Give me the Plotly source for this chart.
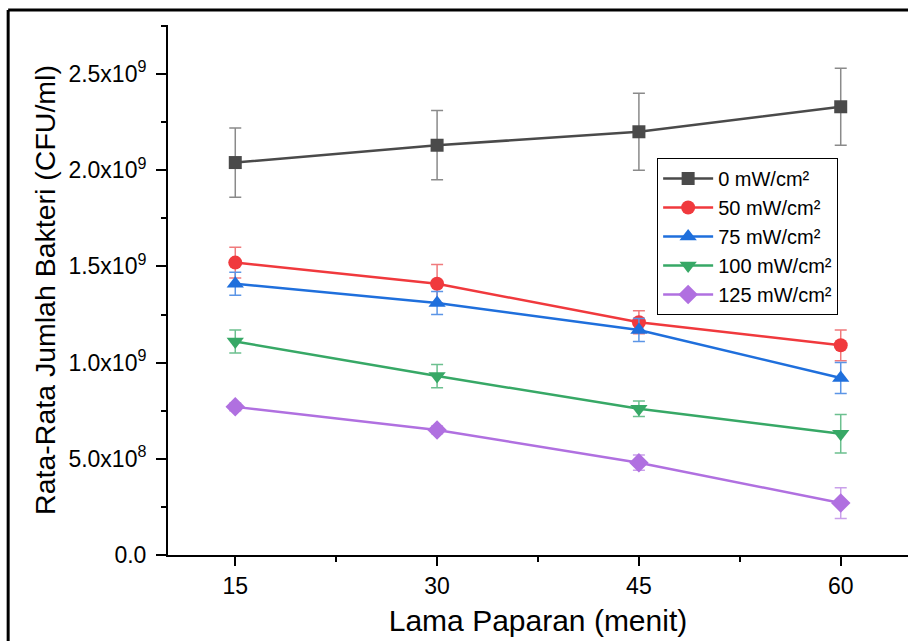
import plotly.graph_objects as go

x_minutes = [15, 30, 45, 60]
series_names = ["0 mW/cm²", "50 mW/cm²", "75 mW/cm²", "100 mW/cm²", "125 mW/cm²"]
y_0 = [2.04e9, 2.13e9, 2.20e9, 2.33e9]
e_0 = [0.18e9, 0.18e9, 0.20e9, 0.20e9]
y_50 = [1.52e9, 1.41e9, 1.21e9, 1.09e9]
e_50 = [0.08e9, 0.10e9, 0.06e9, 0.08e9]
y_75 = [1.41e9, 1.31e9, 1.17e9, 0.92e9]
e_75 = [0.06e9, 0.06e9, 0.06e9, 0.08e9]
y_100 = [1.11e9, 0.93e9, 0.76e9, 0.63e9]
e_100 = [0.06e9, 0.06e9, 0.04e9, 0.10e9]
y_125 = [0.77e9, 0.65e9, 0.48e9, 0.27e9]
e_125 = [0.02e9, 0.02e9, 0.04e9, 0.08e9]

y_tickvals = [0, 5e8, 1e9, 1.5e9, 2e9, 2.5e9]
y_ticktext = ["0.0", "5.0x10<sup>8</sup>", "1.0x10<sup>9</sup>", "1.5x10<sup>9</sup>",
              "2.0x10<sup>9</sup>", "2.5x10<sup>9</sup>"]

ys = [y_0, y_50, y_75, y_100, y_125]
es = [e_0, e_50, e_75, e_100, e_125]
colors = ["#4a4a4a", "#f0393d", "#1f6fdc", "#37a866", "#b070e0"]
err_colors = ["#8a8a8a", "#f07a7c", "#5b95e6", "#6cc08f", "#c9a0ea"]
symbols = ["square", "circle", "triangle-up", "triangle-down", "diamond"]
sizes = [13, 14, 15, 15, 15]

fig = go.Figure()
for name, y, e, c, ec, s, sz in zip(series_names, ys, es, colors, err_colors, symbols, sizes):
    fig.add_trace(go.Scatter(
        x=x_minutes, y=y, name=name, mode="lines+markers",
        line=dict(color=c, width=2.5),
        marker=dict(symbol=s, size=sz, color=c),
        error_y=dict(type="data", array=e, visible=True, color=ec, thickness=1.5, width=6),
    ))

fig.update_layout(
    width=908, height=641,
    margin=dict(l=168, r=0, t=25, b=86),
    paper_bgcolor="white", plot_bgcolor="white",
    font=dict(family="Liberation Sans, Arial, sans-serif", color="black", size=23),
    showlegend=True,
    legend=dict(x=0.661, y=0.749, xanchor="left", yanchor="top",
                bordercolor="black", borderwidth=1, bgcolor="white",
                font=dict(size=20), tracegroupgap=0, itemwidth=50),
    shapes=[
        dict(type="line", xref="paper", yref="paper", x0=-0.216, x1=1.1, y0=1.0283, y1=1.0283,
             line=dict(color="black", width=3)),
        dict(type="line", xref="paper", yref="paper", x0=-0.216, x1=-0.216, y0=1.0283, y1=-0.2,
             line=dict(color="black", width=3)),
    ],
)

fig.update_xaxes(
    range=[10, 65], tickvals=x_minutes, ticktext=[str(v) for v in x_minutes],
    tickfont=dict(size=23),
    showline=True, linecolor="black", linewidth=2, showgrid=False, zeroline=False,
    ticks="outside", ticklen=9, tickwidth=2, tickcolor="black",
    minor=dict(tickvals=[22.5, 37.5, 52.5], ticks="outside", ticklen=5, tickwidth=2, tickcolor="black"),
    title=dict(text="Lama Paparan (menit)", font=dict(size=30), standoff=12),
)
fig.update_yaxes(
    range=[0, 2.755e9], tickvals=y_tickvals, ticktext=y_ticktext,
    tickfont=dict(size=23),
    showline=True, linecolor="black", linewidth=2, showgrid=False, zeroline=False,
    ticks="outside", ticklen=10, tickwidth=2, tickcolor="black", ticklabelstandoff=5,
    minor=dict(tickvals=[2.5e8, 7.5e8, 1.25e9, 1.75e9, 2.25e9, 2.75e9], ticks="outside",
               ticklen=5, tickwidth=2, tickcolor="black"),
    title=dict(text="Rata-Rata Jumlah Bakteri (CFU/ml)", font=dict(size=28.5), standoff=4),
)

fig.write_html("out.html")
